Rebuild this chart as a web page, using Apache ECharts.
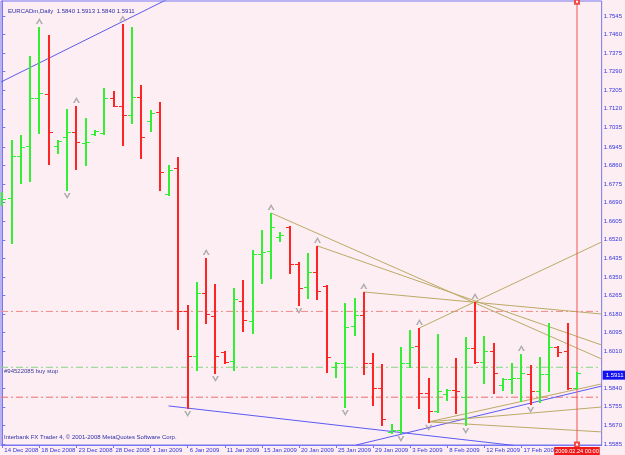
<!DOCTYPE html>
<html>
<head>
<meta charset="utf-8">
<script src="https://cdn.jsdelivr.net/npm/echarts@6/dist/echarts.min.js"></script>
<style>
  html, body { margin: 0; padding: 0; background: #fdeef3; }
  #chart { width: 625px; height: 455px; }
</style>
</head>
<body>
<div id="chart"></div>
<script>
// EURCADm daily bars, 14 Dec 2008 .. 24 Feb 2009 (broker has Sunday bars)
var dates = [
  '14 Dec 2008', '15 Dec 2008', '16 Dec 2008', '17 Dec 2008', '18 Dec 2008', '19 Dec 2008', '21 Dec 2008',
  '22 Dec 2008', '23 Dec 2008', '24 Dec 2008', '25 Dec 2008', '26 Dec 2008', '28 Dec 2008', '29 Dec 2008',
  '30 Dec 2008', '31 Dec 2008', '1 Jan 2009', '2 Jan 2009', '4 Jan 2009', '5 Jan 2009', '6 Jan 2009',
  '7 Jan 2009', '8 Jan 2009', '9 Jan 2009', '11 Jan 2009', '12 Jan 2009', '13 Jan 2009', '14 Jan 2009',
  '15 Jan 2009', '16 Jan 2009', '18 Jan 2009', '19 Jan 2009', '20 Jan 2009', '21 Jan 2009', '22 Jan 2009',
  '23 Jan 2009', '25 Jan 2009', '26 Jan 2009', '27 Jan 2009', '28 Jan 2009', '29 Jan 2009', '30 Jan 2009',
  '1 Feb 2009', '2 Feb 2009', '3 Feb 2009', '4 Feb 2009', '5 Feb 2009', '6 Feb 2009', '8 Feb 2009',
  '9 Feb 2009', '10 Feb 2009', '11 Feb 2009', '12 Feb 2009', '13 Feb 2009', '15 Feb 2009', '16 Feb 2009',
  '17 Feb 2009', '18 Feb 2009', '19 Feb 2009', '20 Feb 2009', '22 Feb 2009', '23 Feb 2009', '24 Feb 2009'
]
var opens = [
  1.6702, 1.6711, 1.6904, 1.6950, 1.7169, 1.7188, 1.6950, 1.6991, 1.7014, 1.6963,
  1.7005, 1.7009, 1.7169, 1.7133, 1.7092, 1.7174, 1.7064, 1.7105, 1.6730, 1.6849,
  1.6194, 1.5988, 1.6276, 1.6171, 1.6006, 1.5965, 1.6240, 1.6148, 1.6455, 1.6469,
  1.6533, 1.6579, 1.6409, 1.6304, 1.6373, 1.6308, 1.5937, 1.5956, 1.6125, 1.6176,
  1.5956, 1.5841, 1.5640, 1.5649, 1.5956, 1.6034, 1.5818, 1.5736, 1.5814, 1.5832,
  1.5800, 1.6024, 1.5960, 1.6011, 1.5855, 1.5883, 1.5887, 1.5905, 1.5828, 1.5905,
  1.6029, 1.6011, 1.5840
]
var highs = [
  1.6739, 1.6977, 1.7000, 1.7362, 1.7495, 1.7458, 1.6977, 1.7119, 1.7133, 1.7078,
  1.7023, 1.7215, 1.7202, 1.7508, 1.7495, 1.7229, 1.7114, 1.7151, 1.6863, 1.6899,
  1.6221, 1.6327, 1.6437, 1.6318, 1.6011, 1.6299, 1.6336, 1.6473, 1.6565, 1.6643,
  1.6556, 1.6583, 1.6418, 1.6460, 1.6492, 1.6313, 1.5960, 1.6231, 1.6253, 1.6281,
  1.6002, 1.5951, 1.5676, 1.6029, 1.6107, 1.6116, 1.5887, 1.6089, 1.5837, 1.5979,
  1.6075, 1.6235, 1.6079, 1.6047, 1.5887, 1.5956, 1.5997, 1.5947, 1.5983, 1.6139,
  1.6034, 1.6139, 1.5913
]
var lows = [
  1.6679, 1.6505, 1.6780, 1.6789, 1.7009, 1.6867, 1.6918, 1.6748, 1.6844, 1.6863,
  1.7000, 1.7005, 1.7131, 1.6954, 1.7055, 1.6895, 1.7018, 1.6748, 1.6725, 1.6112,
  1.5750, 1.5924, 1.6139, 1.5910, 1.5956, 1.5924, 1.6102, 1.6093, 1.6322, 1.6345,
  1.6515, 1.6368, 1.6221, 1.6253, 1.6249, 1.5915, 1.5892, 1.5754, 1.6084, 1.5905,
  1.5763, 1.5672, 1.5635, 1.5635, 1.5937, 1.5750, 1.5686, 1.5731, 1.5786, 1.5727,
  1.5672, 1.5956, 1.5864, 1.5818, 1.5832, 1.5818, 1.5782, 1.5768, 1.5777, 1.5828,
  1.5988, 1.5837, 1.5840
]
var closes = [
  1.6707, 1.6904, 1.6945, 1.7169, 1.7192, 1.7014, 1.6973, 1.7014, 1.6968, 1.6968,
  1.7018, 1.7169, 1.7133, 1.7092, 1.7174, 1.6991, 1.7101, 1.6831, 1.6840, 1.6194,
  1.5988, 1.6276, 1.6180, 1.5988, 1.5960, 1.6249, 1.6153, 1.6455, 1.6464, 1.6579,
  1.6542, 1.6409, 1.6299, 1.6373, 1.6286, 1.5983, 1.5956, 1.6121, 1.6176, 1.5956,
  1.5841, 1.5699, 1.5649, 1.5956, 1.6029, 1.5818, 1.5736, 1.5828, 1.5832, 1.5828,
  1.6024, 1.5960, 1.6011, 1.5910, 1.5883, 1.5887, 1.5910, 1.5828, 1.5905, 1.6029,
  1.6006, 1.5841, 1.5911
]

// price scale labels as MT4 printed them
var priceTicks = [
  1.5585, 1.5670, 1.5755, 1.5840, 1.6010, 1.6095, 1.6180, 1.6265, 1.6350, 1.6435,
  1.6520, 1.6605, 1.6690, 1.6775, 1.6860, 1.6945, 1.7035, 1.7120, 1.7205, 1.7290,
  1.7375, 1.7460, 1.7545
]
var dateTickBars = [0, 4, 8, 12, 16, 20, 24, 28, 32, 36, 40, 44, 48, 52, 56]

// bill williams fractals (bar indexes)
var fractalsUp = [4, 8, 13, 22, 29, 34, 39, 45, 51, 56]
var fractalsDown = [7, 20, 23, 32, 37, 43, 46, 50, 57]

// trendlines: [[bar, price], [bar, price]]
var blueLines = [
  [[-0.14, 1.7243], [18.05, 1.7627]],
  [[17.94, 1.5759], [55.19, 1.5578]],
  [[38.18, 1.5580], [64.66, 1.5850]]
]
var fanLines = [
  [[29, 1.6643], [64.66, 1.5974]],
  [[34, 1.6492], [64.66, 1.6038]],
  [[39, 1.6281], [64.66, 1.6180]],
  [[45, 1.6116], [64.66, 1.6510]],
  [[46, 1.5686], [64.66, 1.5860]],
  [[46, 1.5686], [64.66, 1.5754]],
  [[46, 1.5686], [64.66, 1.5640]]
]

// order lines
var takeProfit = 1.6192
var buyStop = 1.5936
var stopLoss = 1.5799
var lastBar = 62
var bid = 1.5911

var X_MIN = -0.14, X_MAX = 64.66
var Y_MIN = 1.5580, Y_MAX = 1.7614

var FONT = 'Liberation Sans'
var FS = 6
var upColor = '#33ef33'
var downColor = '#ff2424'
var frameColor = '#7676f2'
var textColor = '#3434e0'

function renderBar(params, api) {
  var i = api.value(0)
  var o = api.coord([i, api.value(1)])
  var h = api.coord([i, api.value(2)])
  var l = api.coord([i, api.value(3)])
  var c = api.coord([i, api.value(4)])
  var color = api.value(4) >= api.value(1) ? upColor : downColor
  var x = Math.round(h[0])
  var oy = Math.round(o[1]) + 0.5
  var cy = Math.round(c[1]) + 0.5
  return {
    type: 'group',
    children: [
      { type: 'line', shape: { x1: x, y1: Math.round(h[1]), x2: x, y2: Math.round(l[1]) + 1 }, style: { stroke: color, lineWidth: 2 } },
      { type: 'line', shape: { x1: x - 4, y1: oy, x2: x - 1, y2: oy }, style: { stroke: color, lineWidth: 1 } },
      { type: 'line', shape: { x1: x + 1, y1: cy, x2: x + 4, y2: cy }, style: { stroke: color, lineWidth: 1 } }
    ]
  }
}

function segment(seg, color, type) {
  return {
    type: 'line',
    data: seg,
    symbol: 'none',
    silent: true,
    clip: true,
    animation: false,
    z: 1,
    lineStyle: { color: color, width: 1, type: type || 'solid' }
  }
}

var bars = opens.map(function(o, i) {
  return [i, o, highs[i], lows[i], closes[i]]
})

var chart = echarts.init(document.getElementById('chart'))

var dashDot = [7, 3, 2, 3]
var series = []
series.push(segment([[X_MIN, takeProfit], [X_MAX, takeProfit]], '#f08a8a', dashDot))
series.push(segment([[X_MIN, stopLoss], [X_MAX, stopLoss]], '#f06a6a', dashDot))
series.push(segment([[X_MIN, buyStop], [X_MAX, buyStop]], '#86d486', dashDot))
blueLines.forEach(function(s) { series.push(segment(s, '#5a5af5')) })
fanLines.forEach(function(s) { series.push(segment(s, '#bcaa66')) })

// vertical line on the current bar
series.push({
  type: 'line',
  data: [[lastBar, Y_MIN + 0.0002], [lastBar, Y_MAX - 0.0004]],
  symbol: 'emptyRect',
  symbolSize: 4,
  showSymbol: true,
  silent: true,
  animation: false,
  z: 2,
  itemStyle: { color: '#f04a4a', borderColor: '#f04a4a' },
  lineStyle: { color: '#f25555', width: 1 }
})

series.push({
  type: 'custom',
  renderItem: renderBar,
  data: bars,
  encode: { x: 0, y: [1, 2, 3, 4] },
  clip: true,
  animation: false,
  z: 3,
  markLine: {
    silent: true,
    symbol: 'none',
    animation: false,
    data: [
      {
        yAxis: buyStop,
        lineStyle: { color: 'transparent', width: 0 },
        label: {
          show: true, position: 'insideStartTop', distance: [3, 1],
          formatter: '#94522085 buy stop',
          color: '#3a3a9a', fontFamily: FONT, fontSize: FS
        }
      },
      {
        yAxis: bid,
        lineStyle: { color: 'transparent', width: 0 },
        label: {
          show: true, position: 'end', distance: 1,
          formatter: bid.toFixed(4),
          color: '#ffffff', backgroundColor: '#1010f0',
          padding: [2, 3, 1, 3], fontFamily: FONT, fontSize: FS
        }
      },
      {
        xAxis: lastBar,
        lineStyle: { color: 'transparent', width: 0 },
        label: {
          show: true, position: 'start', distance: 2,
          formatter: '2009.02.24 00:00',
          color: '#ffffff', backgroundColor: '#f01818',
          padding: [1, 1, 1, 1], fontFamily: FONT, fontSize: 5.6
        }
      }
    ]
  }
})

series.push({
  type: 'scatter',
  data: fractalsUp.map(function(i) { return [i, highs[i]] }),
  symbol: 'path://M0,10 L5,0 L10,10 L7.5,10 L5,4.5 L2.5,10 Z',
  symbolSize: [7, 6],
  symbolOffset: [0, -6],
  itemStyle: { color: '#9a9a9a' },
  silent: true,
  animation: false,
  z: 4
})
series.push({
  type: 'scatter',
  data: fractalsDown.map(function(i) { return [i, lows[i]] }),
  symbol: 'path://M0,0 L5,10 L10,0 L7.5,0 L5,5.5 L2.5,0 Z',
  symbolSize: [7, 6],
  symbolOffset: [0, 6],
  itemStyle: { color: '#9a9a9a' },
  silent: true,
  animation: false,
  z: 4
})

chart.setOption({
  backgroundColor: '#fdeef3',
  animation: false,
  textStyle: { fontFamily: FONT },
  title: {
    text: 'EURCADm,Daily  1.5840 1.5913 1.5840 1.5911',
    left: 3,
    top: 3,
    textStyle: { fontSize: FS, fontWeight: 'normal', color: '#2e2ea8', fontFamily: FONT }
  },
  graphic: [{
    type: 'text',
    left: 4,
    top: 434,
    style: {
      text: 'Interbank FX Trader 4, \u00a9 2001-2008 MetaQuotes Software Corp.',
      fill: '#2e2ea8',
      font: FS + 'px ' + FONT
    }
  }],
  grid: {
    left: 1,
    top: 1,
    right: 22,
    bottom: 10,
    show: true,
    borderColor: frameColor,
    borderWidth: 1,
    backgroundColor: '#fdeef3'
  },
  xAxis: {
    type: 'value',
    min: X_MIN,
    max: X_MAX,
    position: 'bottom',
    axisLine: { show: true, lineStyle: { color: frameColor } },
    axisTick: { show: true, length: 3, customValues: dateTickBars, lineStyle: { color: frameColor } },
    axisLabel: {
      customValues: dateTickBars,
      formatter: function(v) { return dates[Math.round(v)] },
      showMinLabel: true,
      showMaxLabel: true,
      hideOverlap: false,
      align: 'left',
      margin: 2,
      padding: [0, 0, 0, 2],
      fontSize: FS,
      fontFamily: FONT,
      color: textColor
    },
    splitLine: { show: false }
  },
  yAxis: {
    type: 'value',
    position: 'right',
    min: Y_MIN,
    max: Y_MAX,
    axisLine: { show: true, lineStyle: { color: frameColor } },
    axisTick: { show: true, length: 3, customValues: priceTicks, lineStyle: { color: frameColor } },
    axisLabel: {
      customValues: priceTicks,
      formatter: function(v) { return v.toFixed(4) },
      showMinLabel: true,
      showMaxLabel: true,
      margin: 2,
      fontSize: FS,
      fontFamily: FONT,
      color: textColor
    },
    splitLine: { show: false }
  },
  series: series
})
</script>
</body>
</html>
